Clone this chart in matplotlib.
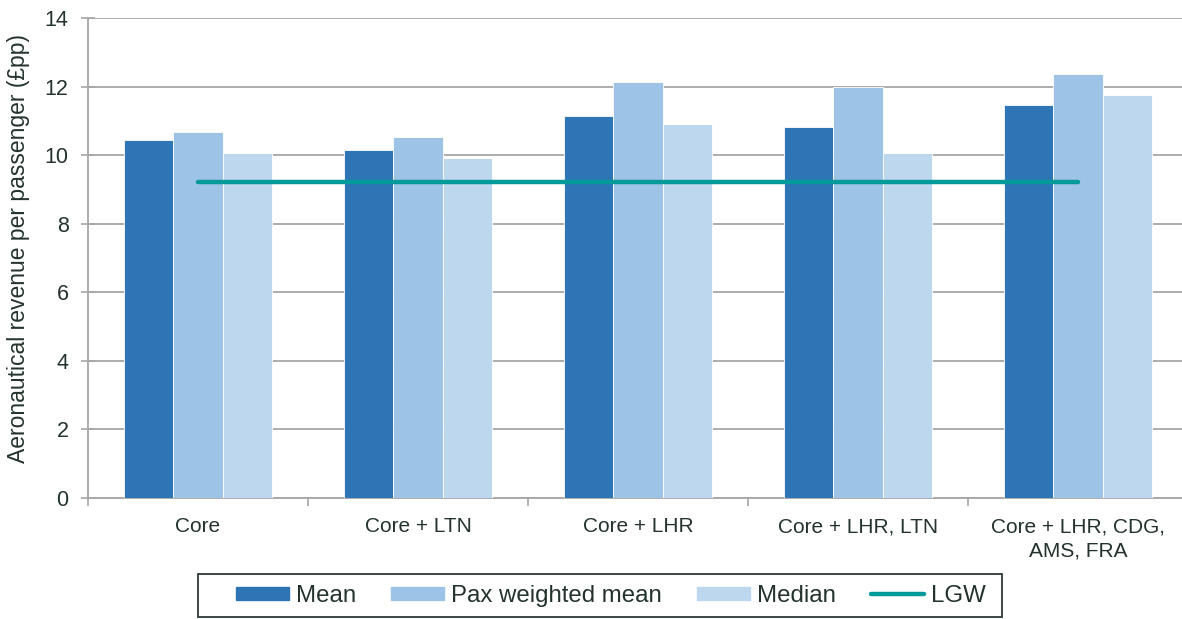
import numpy as np
import matplotlib.pyplot as plt
from matplotlib.lines import Line2D
from matplotlib.patches import Patch, Rectangle

plt.rcParams['font.family'] = ['Liberation Sans', 'DejaVu Sans']

categories = ['Core', 'Core + LTN', 'Core + LHR', 'Core + LHR, LTN', 'Core + LHR, CDG,\nAMS, FRA']
mean = [10.45, 10.15, 11.15, 10.83, 11.45]
pax_weighted = [10.68, 10.52, 12.14, 11.98, 12.38]
median = [10.05, 9.92, 10.9, 10.05, 11.75]
lgw = 9.22

text_col = '#24332c'
grid_col = '#a6a6a6'
colors = ['#2e75b6', '#9dc3e6', '#bdd7ee']

W, H = 1182, 619
fig = plt.figure(figsize=(W / 100, H / 100), dpi=100)
ax = fig.add_axes([88 / W, 121 / H, 1100 / W, 480 / H])

x = np.arange(len(categories))
w = 0.223
for i, (vals, c) in enumerate(zip([mean, pax_weighted, median], colors)):
    ax.bar(x + (i - 1) * w, vals, w, color=c, edgecolor='white', linewidth=0.6, zorder=3)

# LGW line runs from the first to the last category centre
ax.plot([x[0], x[-1]], [lgw, lgw], color='#009a9a', linewidth=3.2,
        solid_capstyle='round', zorder=4)

ax.set_xlim(-0.5, len(categories) - 0.5)
ax.set_ylim(0, 14)
ax.set_yticks(range(0, 15, 2))
ax.yaxis.grid(True, color=grid_col, linewidth=1.3, zorder=0)
ax.set_axisbelow(True)

ax.set_xticks(x)
ax.set_xticklabels(categories, fontsize=15, color=text_col, linespacing=1.35)
ax.tick_params(axis='x', length=0, pad=14)
ax.set_xticks(np.arange(-0.5, len(categories)), minor=True)
ax.tick_params(axis='x', which='minor', length=6, color=grid_col, width=1.2)
ax.tick_params(axis='y', labelsize=15.5, colors=text_col, direction='inout', length=10,
               color=grid_col, width=1.2, pad=9)

for s in ['top', 'right']:
    ax.spines[s].set_visible(False)
for s in ['left', 'bottom']:
    ax.spines[s].set_color(grid_col)
    ax.spines[s].set_linewidth(1.3)

ax.set_ylabel('Aeronautical revenue per passenger (£pp)', fontsize=16.5, color=text_col)
ax.yaxis.set_label_coords(-58 / 1100, 0.52)

handles = [Patch(color=colors[0]), Patch(color=colors[1]), Patch(color=colors[2]),
           Line2D([0], [0], color='#009a9a', linewidth=3.2, solid_capstyle='round')]
labels = ['Mean', 'Pax weighted mean', 'Median', 'LGW']
leg = fig.legend(handles, labels, loc='center', bbox_to_anchor=(611 / W, 1 - 596 / H),
                 ncol=4, fontsize=17.3, frameon=False,
                 handlelength=2.2, handleheight=0.5, handletextpad=0.3, columnspacing=1.45,
                 borderpad=0, borderaxespad=0, labelcolor=text_col)

# legend box drawn separately: wider padding left/right than matplotlib allows
fig.patches.append(Rectangle((198 / W, 2 / H), 804 / W, 43 / H, transform=fig.transFigure,
                             fill=False, edgecolor='#2b3a33', linewidth=1.3))

fig.savefig('out.png', dpi=100)
